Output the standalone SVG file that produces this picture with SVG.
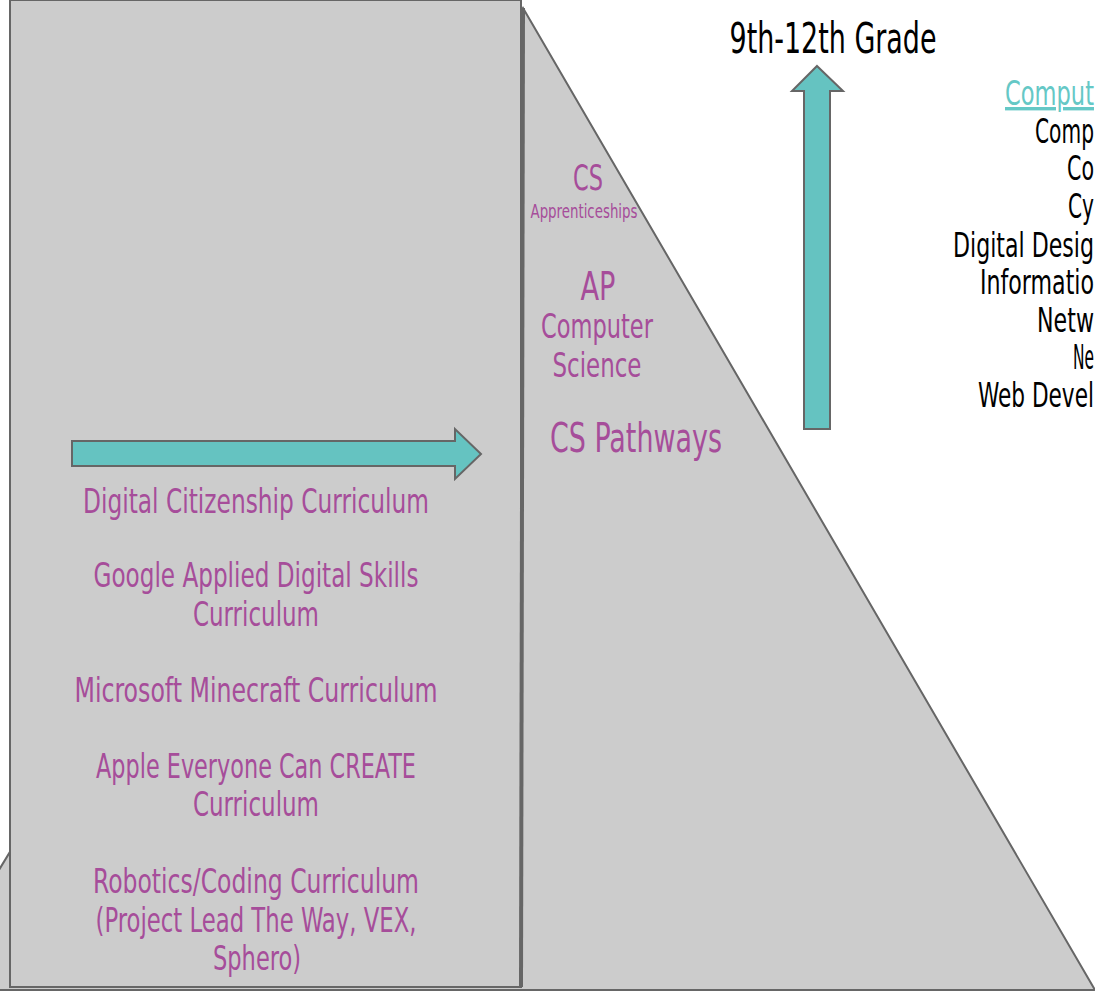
<svg xmlns="http://www.w3.org/2000/svg" width="1095" height="993" viewBox="0 0 1095 993">
<style>
.shape{fill:#cccccc;stroke:#666666;stroke-width:2}
.arrow{fill:#65c3c1;stroke:#666666;stroke-width:2;stroke-linejoin:miter}
text{font-family:"DejaVu Sans Condensed","Liberation Sans Narrow","Liberation Sans",sans-serif}
.p{fill:#a64d9a;text-anchor:middle}
.k{fill:#000000;text-anchor:start}
.t{fill:#65c8c6;text-anchor:start;text-decoration:underline}
</style>
<rect width="1095" height="993" fill="#ffffff"/>
<g id="pyramid">
<polygon class="shape" points="523,8 1095,990 -74,990"/>
</g>
<g id="elementary-box">
<rect class="shape" x="10" y="0" width="511" height="987"/>
<line x1="523" y1="8" x2="521" y2="987" stroke="#666666" stroke-width="4"/>
</g>
<g id="connectors">
<polygon class="arrow" points="72,441 455,441 455,429 481,454 455,479 455,466 72,466"/>
<polygon class="arrow" points="817,66 843,91 830,91 830,429 804,429 804,91 792,91"/>
</g>
<g id="left-labels" font-size="34">
<text class="p" x="256" y="513" textLength="346" lengthAdjust="spacingAndGlyphs">Digital Citizenship Curriculum</text>
<text class="p" x="256" y="587" textLength="325" lengthAdjust="spacingAndGlyphs">Google Applied Digital Skills</text>
<text class="p" x="256" y="626" textLength="126" lengthAdjust="spacingAndGlyphs">Curriculum</text>
<text class="p" x="256" y="702" textLength="363" lengthAdjust="spacingAndGlyphs">Microsoft Minecraft Curriculum</text>
<text class="p" x="256" y="778" textLength="320" lengthAdjust="spacingAndGlyphs">Apple Everyone Can CREATE</text>
<text class="p" x="256" y="816" textLength="126" lengthAdjust="spacingAndGlyphs">Curriculum</text>
<text class="p" x="256" y="893" textLength="326" lengthAdjust="spacingAndGlyphs">Robotics/Coding Curriculum</text>
<text class="p" x="256" y="932" textLength="321" lengthAdjust="spacingAndGlyphs">(Project Lead The Way, VEX,</text>
<text class="p" x="257" y="970" textLength="88" lengthAdjust="spacingAndGlyphs">Sphero)</text>
</g>
<g id="pyramid-labels">
<text class="p" x="588" y="190" font-size="36" textLength="30" lengthAdjust="spacingAndGlyphs">CS</text>
<text class="p" x="584" y="218" font-size="20" textLength="107" lengthAdjust="spacingAndGlyphs">Apprenticeships</text>
<text class="p" x="598" y="300" font-size="39" textLength="35" lengthAdjust="spacingAndGlyphs">AP</text>
<text class="p" x="597" y="338" font-size="33" textLength="112" lengthAdjust="spacingAndGlyphs">Computer</text>
<text class="p" x="597" y="377" font-size="33" textLength="89" lengthAdjust="spacingAndGlyphs">Science</text>
<text class="p" x="636" y="452" font-size="40" textLength="172" lengthAdjust="spacingAndGlyphs">CS Pathways</text>
</g>
<g id="grade-label">
<text x="833" y="53" font-size="42" fill="#000000" text-anchor="middle" textLength="207" lengthAdjust="spacingAndGlyphs">9th-12th Grade</text>
</g>
<g id="pathway-list" font-size="34">
<text class="t" x="1005" y="105" textLength="89" lengthAdjust="spacingAndGlyphs">Comput</text>
<text class="k" x="1035" y="143" textLength="59" lengthAdjust="spacingAndGlyphs">Comp</text>
<text class="k" x="1067" y="180" textLength="27" lengthAdjust="spacingAndGlyphs">Co</text>
<text class="k" x="1068" y="218" textLength="26" lengthAdjust="spacingAndGlyphs">Cy</text>
<text class="k" x="953" y="257" textLength="141" lengthAdjust="spacingAndGlyphs">Digital Desig</text>
<text class="k" x="980" y="294" textLength="114" lengthAdjust="spacingAndGlyphs">Informatio</text>
<text class="k" x="1037" y="332" textLength="57" lengthAdjust="spacingAndGlyphs">Netw</text>
<text class="k" x="1073" y="369" textLength="21" lengthAdjust="spacingAndGlyphs">Ne</text>
<text class="k" x="978" y="407" textLength="116" lengthAdjust="spacingAndGlyphs">Web Devel</text>
</g>
</svg>
